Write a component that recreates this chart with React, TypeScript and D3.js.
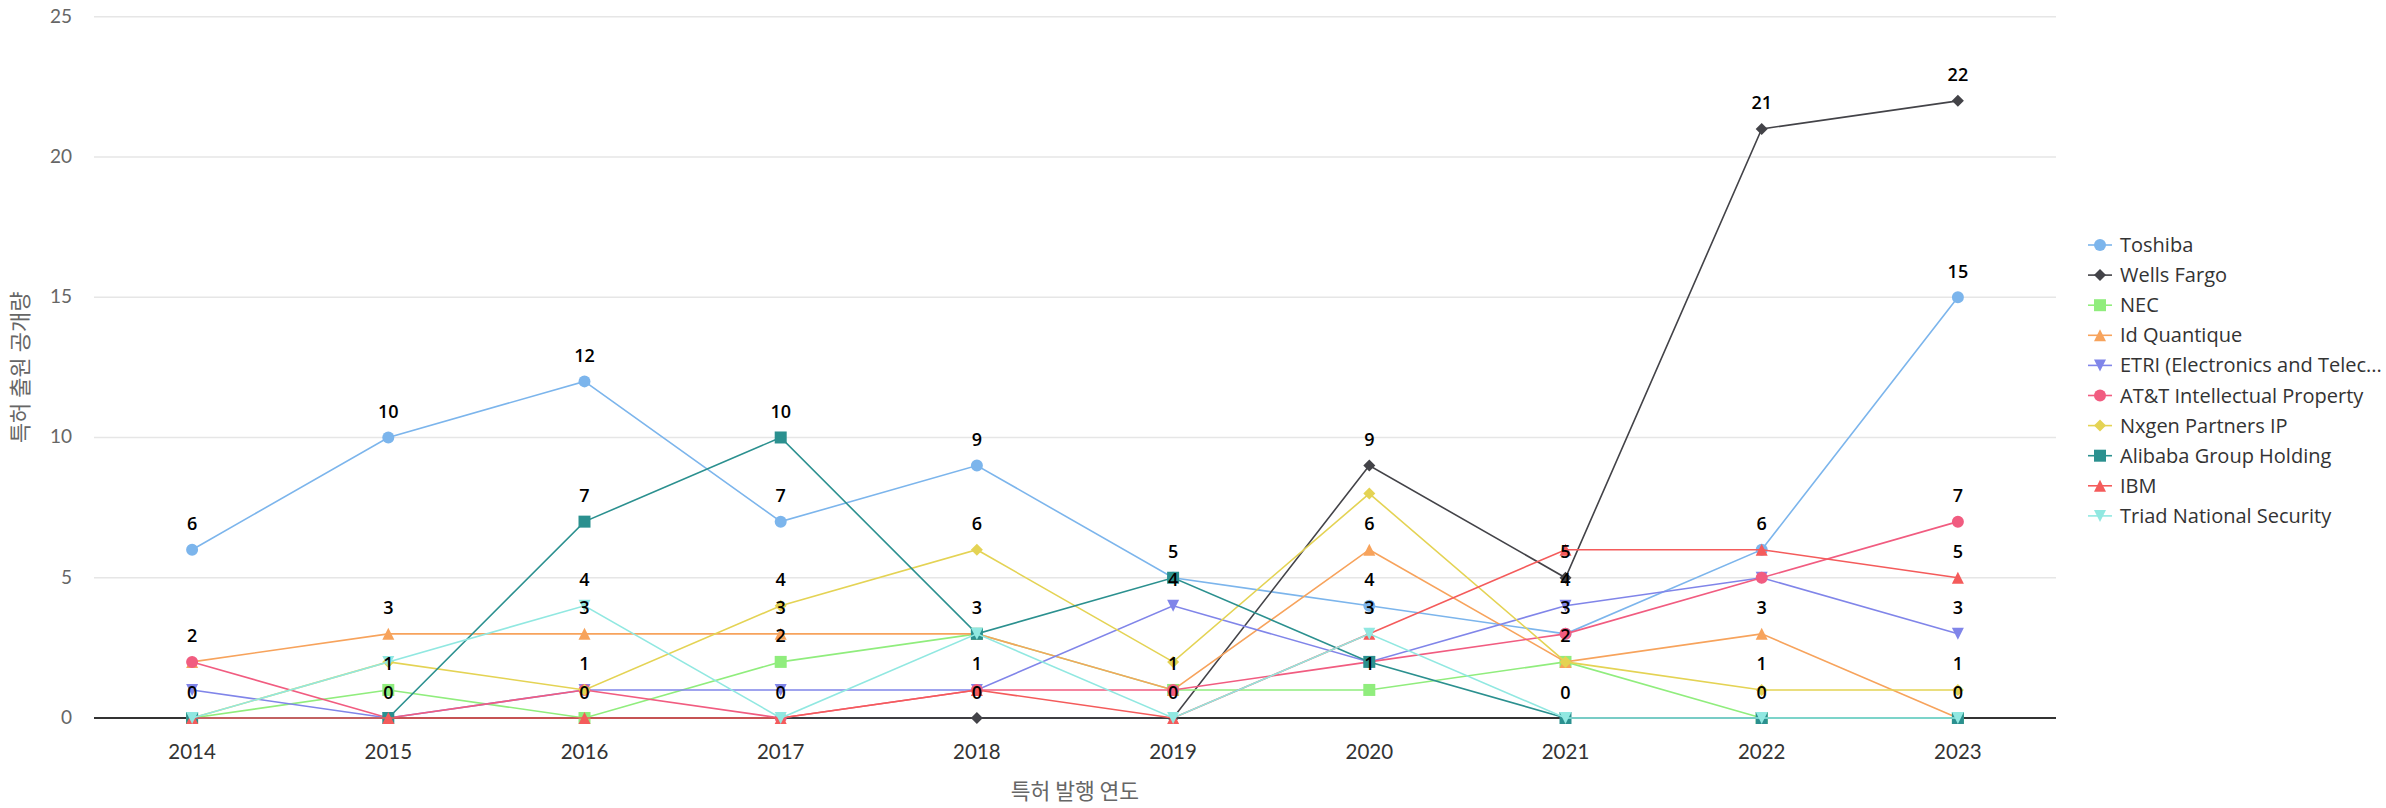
import React from "react";
import * as d3 from "d3";

const years = ["2014", "2015", "2016", "2017", "2018", "2019", "2020", "2021", "2022", "2023"];

const seriesNames = [
  "Toshiba",
  "Wells Fargo",
  "NEC",
  "Id Quantique",
  "ETRI (Electronics and Telec...",
  "AT&T Intellectual Property",
  "Nxgen Partners IP",
  "Alibaba Group Holding",
  "IBM",
  "Triad National Security",
];

const toshiba = [6, 10, 12, 7, 9, 5, 4, 3, 6, 15];
const wellsFargo = [0, 0, 0, 0, 0, 0, 9, 5, 21, 22];
const nec = [0, 1, 0, 2, 3, 1, 1, 2, 0, 0];
const idQuantique = [2, 3, 3, 3, 3, 1, 6, 2, 3, 0];
const etri = [1, 0, 1, 1, 1, 4, 2, 4, 5, 3];
const att = [2, 0, 1, 0, 1, 1, 2, 3, 5, 7];
const nxgen = [0, 2, 1, 4, 6, 2, 8, 2, 1, 1];
const alibaba = [0, 0, 7, 10, 3, 5, 2, 0, 0, 0];
const ibm = [0, 0, 0, 0, 1, 0, 3, 6, 6, 5];
const triad = [0, 2, 4, 0, 3, 0, 3, 0, 0, 0];

const seriesValues = [toshiba, wellsFargo, nec, idQuantique, etri, att, nxgen, alibaba, ibm, triad];

const colors = ["#7cb5ec", "#434348", "#90ed7d", "#f7a35c", "#8085e9", "#f15c80", "#e4d354", "#2b908f", "#f45b5b", "#91e8e1"];
const symbolsKind = ["circle", "diamond", "square", "triangle", "triangle-down", "circle", "diamond", "square", "triangle", "triangle-down"];

// data labels that remain visible (others hidden by overlap), per year
const visibleLabels = [
  [6, 2, 0],
  [10, 3, 1, 0],
  [12, 7, 4, 3, 1, 0],
  [10, 7, 4, 3, 2, 0],
  [9, 6, 3, 1, 0],
  [5, 4, 1, 0],
  [9, 6, 4, 3, 1],
  [5, 4, 3, 2, 0],
  [21, 6, 3, 1, 0],
  [22, 15, 7, 5, 3, 1, 0],
];

const yTicks = [0, 5, 10, 15, 20, 25];

const W = 2386;
const H = 808;
const plotLeft = 94;
const plotRight = 2056;
const plotTop = 16.7;
const plotBottom = 718;

function markerPath(kind: string, cx: number, cy: number, r: number): string {
  switch (kind) {
    case "circle":
      return `M${cx - r},${cy} a${r},${r} 0 1,0 ${2 * r},0 a${r},${r} 0 1,0 ${-2 * r},0 Z`;
    case "diamond":
      return `M${cx},${cy - r} L${cx + r},${cy} L${cx},${cy + r} L${cx - r},${cy} Z`;
    case "square":
      return `M${cx - r},${cy - r} L${cx + r},${cy - r} L${cx + r},${cy + r} L${cx - r},${cy + r} Z`;
    case "triangle":
      return `M${cx},${cy - r} L${cx + r},${cy + r} L${cx - r},${cy + r} Z`;
    case "triangle-down":
      return `M${cx - r},${cy - r} L${cx + r},${cy - r} L${cx},${cy + r} Z`;
  }
  return "";
}

export default function App() {
  const x = d3.scaleBand<string>().domain(years).range([plotLeft, plotRight]);
  const y = d3.scaleLinear().domain([0, 25]).range([plotBottom, plotTop]);
  const cx = (yr: string) => (x(yr) as number) + x.bandwidth() / 2;
  const line = d3
    .line<number>()
    .x((_, i) => cx(years[i]))
    .y((v) => y(v));

  const tickFont = "Lato, 'Noto Sans', sans-serif";
  const labelFont = "'Open Sans', 'DejaVu Sans', sans-serif";

  return (
    <svg width={W} height={H} style={{ display: "block", position: "absolute", left: 0, top: 0, background: "#fff" }}>
      {/* grid */}
      {yTicks.map((t) => (
        <g key={"g" + t}>
          {t !== 0 && (
            <line x1={plotLeft} x2={plotRight} y1={y(t)} y2={y(t)} stroke="#e6e6e6" strokeWidth={1.5} />
          )}
          <text x={72} y={y(t) + 6} textAnchor="end" fontFamily={tickFont} fontSize={19} fill="#666">
            {t}
          </text>
        </g>
      ))}
      <line x1={plotLeft} x2={plotRight} y1={y(0)} y2={y(0)} stroke="#333" strokeWidth={2} />
      {years.map((yr) => (
        <text key={"xt" + yr} x={cx(yr)} y={759} textAnchor="middle" fontFamily={tickFont} fontSize={20.5} fill="#333">
          {yr}
        </text>
      ))}
      <text x={(plotLeft + plotRight) / 2} y={799} textAnchor="middle" fontFamily="'Noto Sans CJK KR', sans-serif" fontSize={21.5} fill="#666">
        특허 발행 연도
      </text>
      <text
        transform={`translate(28,${(plotTop + plotBottom) / 2}) rotate(-90)`}
        textAnchor="middle"
        fontFamily="'Noto Sans CJK KR', sans-serif"
        fontSize={22}
        fill="#666"
      >
        특허 출원 공개량
      </text>

      {/* series */}
      {seriesValues.map((vals, si) => (
        <g key={"s" + si}>
          <path d={line(vals) || ""} fill="none" stroke={colors[si]} strokeWidth={1.6} />
          {vals.map((v, i) => (
            <path key={i} d={markerPath(symbolsKind[si], cx(years[i]), y(v), 6)} fill={colors[si]} />
          ))}
        </g>
      ))}

      {/* data labels */}
      {visibleLabels.map((labs, i) =>
        labs.map((v, k) => (
          <text
            key={"l" + i + "-" + k}
            x={cx(years[i])}
            y={y(v) - 26 + 6.5}
            textAnchor="middle"
            fontFamily={labelFont}
            fontWeight={600}
            fontSize={18}
            fill="#000"
          >
            {v}
          </text>
        ))
      )}

      {/* legend */}
      {seriesNames.map((name, si) => {
        const ly = 245 + si * 30.1;
        return (
          <g key={"lg" + si}>
            <line x1={2088} x2={2112} y1={ly} y2={ly} stroke={colors[si]} strokeWidth={1.6} />
            <path d={markerPath(symbolsKind[si], 2100, ly, 6)} fill={colors[si]} />
            <text x={2120} y={ly + 7} fontFamily={labelFont} fontWeight={500} fontSize={20} fill="#333">
              {name}
            </text>
          </g>
        );
      })}
    </svg>
  );
}
